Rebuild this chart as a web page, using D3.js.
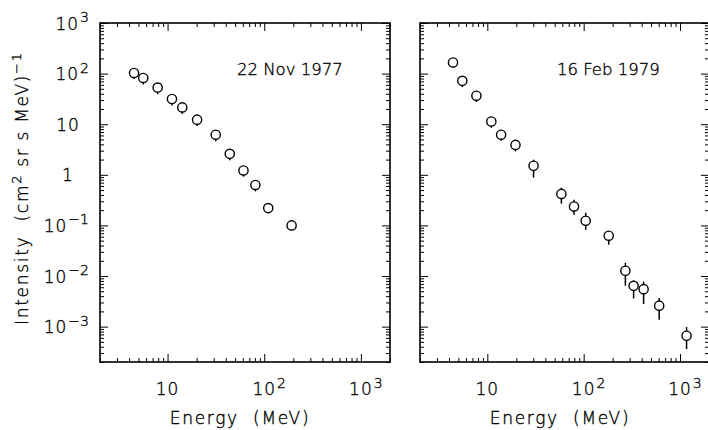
<!DOCTYPE html>
<html>
<head>
<meta charset="utf-8">
<script src="https://cdn.jsdelivr.net/npm/d3@7"></script>
<style>
  body { margin: 0; background: #fff; }
  svg { display: block; font-family: "DejaVu Sans", sans-serif; font-weight: 200; }
  svg text { fill: #000; stroke: #000; stroke-width: 0.35px; }
</style>
</head>
<body>
<div id="chart"></div>
<script>
// 22 Nov 1977 event
const energyNov77 = [4.5, 5.6, 7.9, 11.1, 14.2, 20.2, 31.5, 44, 61, 81, 110, 192]
const fluxNov77   = [103, 82, 53, 31.5, 21.5, 12.3, 6.2, 2.6, 1.22, 0.63, 0.22, 0.10]
const fluxLoNov77 = [78, 61, 39, 23.5, 16, 9.2, 4.6, 1.95, 0.92, 0.47, 0.19, 0.087]
const fluxHiNov77 = [125, 100, 64, 38, 26, 15, 7.5, 3.1, 1.45, 0.75, 0.25, 0.115]

// 16 Feb 1979 event
const energyFeb79 = [4.4, 5.5, 7.7, 11, 13.9, 19.6, 30.2, 58.7, 79.4, 105, 182, 271, 330, 419, 608, 1170]
const fluxFeb79   = [166, 72, 36.6, 11.3, 6.2, 3.9, 1.51, 0.42, 0.237, 0.124, 0.0626, 0.0127, 0.0064, 0.0055, 0.0026, 0.00066]
const fluxLoFeb79 = [135, 54, 27.5, 8.5, 4.7, 2.9, 0.88, 0.27, 0.163, 0.082, 0.0415, 0.0064, 0.0036, 0.0028, 0.00136, 0.00036]
const fluxHiFeb79 = [195, 88, 44, 14, 7.5, 4.8, 1.99, 0.556, 0.322, 0.178, 0.075, 0.0183, 0.0082, 0.0078, 0.00367, 0.00098]

// tick labels
const xTickValues = [10, 100, 1000]
const xTickLabels = [["10", ""], ["10", "2"], ["10", "3"]]
const yTickValues = [1000, 100, 10, 1, 0.1, 0.01, 0.001]
const yTickLabels = [["10", "3"], ["10", "2"], ["10", ""], ["1", ""], ["10", "\u22121"], ["10", "\u22122"], ["10", "\u22123"]]

const width = 708
const height = 430
const plotTop = 23
const plotBottom = 362

const svg = d3.select("#chart").append("svg").attr("width", width).attr("height", height)

const isMajor = v => Math.abs(Math.log10(v) - Math.round(Math.log10(v))) < 1e-6

const drawPanel = (left, right, energy, flux, lo, hi, label, showYLabels) => {

    const x = d3.scaleLog().domain([2, 2000]).range([left, right])
    const y = d3.scaleLog().domain([2e-4, 1e3]).range([plotBottom, plotTop])
    const g = svg.append("g")

    const xMajor = x.ticks().filter(isMajor)
    const xMinor = x.ticks().filter(v => !isMajor(v))
    const yMajor = y.ticks().filter(isMajor)
    const yMinor = y.ticks().filter(v => !isMajor(v))

    // ticks on all four sides, pointing inward
    const sides = [
        [() => d3.axisBottom(x), `translate(0,${plotBottom})`, xMajor, xMinor],
        [() => d3.axisTop(x), `translate(0,${plotTop})`, xMajor, xMinor],
        [() => d3.axisLeft(y), `translate(${left},0)`, yMajor, yMinor],
        [() => d3.axisRight(y), `translate(${right},0)`, yMajor, yMinor]
    ]
    sides.forEach(([mk, tr, major, minor]) => {
        g.append("g").attr("transform", tr).call(mk().tickValues(major).tickSize(-8).tickFormat(""))
        g.append("g").attr("transform", tr).call(mk().tickValues(minor).tickSize(-4).tickFormat(""))
    })
    g.selectAll(".domain").remove()
    g.selectAll(".tick line").attr("stroke", "#000").attr("stroke-width", 1)

    g.append("rect")
        .attr("x", left).attr("y", plotTop)
        .attr("width", right - left).attr("height", plotBottom - plotTop)
        .attr("fill", "none").attr("stroke", "#000").attr("stroke-width", 1.6)

    const pts = energy.map((e, i) => ({e, v: flux[i], lo: lo[i], hi: hi[i]}))

    // error bars
    g.selectAll("line.err").data(pts).enter().append("line")
        .attr("class", "err")
        .attr("x1", d => x(d.e)).attr("x2", d => x(d.e))
        .attr("y1", d => y(d.lo)).attr("y2", d => y(d.hi))
        .attr("stroke", "#000").attr("stroke-width", 1.5)

    g.selectAll("circle").data(pts).enter().append("circle")
        .attr("cx", d => x(d.e)).attr("cy", d => y(d.v))
        .attr("r", 4.6)
        .attr("fill", "#fff").attr("stroke", "#000").attr("stroke-width", 1.4)

    // x tick labels
    xTickValues.forEach((v, i) => {
        const [base, exp] = xTickLabels[i]
        const t = g.append("text")
            .attr("x", x(v)).attr("y", 395)
            .attr("text-anchor", "middle")
            .attr("font-size", 17).attr("letter-spacing", 1)
            .text(base)
        if (exp) {
            const w = t.node().getComputedTextLength()
            g.append("text")
                .attr("x", x(v) + w / 2 + 1).attr("y", 388)
                .attr("font-size", 14)
                .text(exp)
        }
    })

    // y tick labels
    if (showYLabels) {
        yTickValues.forEach((v, i) => {
            const [base, exp] = yTickLabels[i]
            if (exp) {
                const s = g.append("text")
                    .attr("x", 89).attr("y", y(v) - 1)
                    .attr("text-anchor", "end")
                    .attr("font-size", 14)
                    .text(exp)
                const w = s.node().getComputedTextLength()
                g.append("text")
                    .attr("x", 89 - w - 1).attr("y", y(v) + 6.5)
                    .attr("text-anchor", "end")
                    .attr("font-size", 17).attr("letter-spacing", 1)
                    .text(base)
            } else {
                g.append("text")
                    .attr("x", 68).attr("y", y(v) + 6.5)
                    .attr("text-anchor", "middle")
                    .attr("font-size", 17).attr("letter-spacing", 1)
                    .text(base)
            }
        })
    }

    g.append("text")
        .attr("x", left + 140).attr("y", 424)
        .attr("text-anchor", "middle")
        .attr("font-size", 17).attr("letter-spacing", 1.7)
        .style("white-space", "pre")
        .text("Energy  (MeV)")

    g.append("text")
        .attr("x", left + 137).attr("y", 75)
        .attr("font-size", 16.5)
        .text(label)
}

drawPanel(100, 390, energyNov77, fluxNov77, fluxLoNov77, fluxHiNov77, "22 Nov 1977", true)
drawPanel(420, 709, energyFeb79, fluxFeb79, fluxLoFeb79, fluxHiFeb79, "16 Feb 1979", false)

// y axis title
const yTitle = svg.append("text")
    .attr("transform", "translate(28,325) rotate(-90)")
    .attr("font-size", 17).attr("letter-spacing", 1.7)
    .style("white-space", "pre")
yTitle.append("tspan").text("Intensity  (cm")
yTitle.append("tspan").attr("dy", -7).attr("font-size", 13).text("2")
yTitle.append("tspan").attr("dy", 7).text(" sr s MeV)")
yTitle.append("tspan").attr("dy", -7).attr("font-size", 13).text("\u22121")
</script>
</body>
</html>
